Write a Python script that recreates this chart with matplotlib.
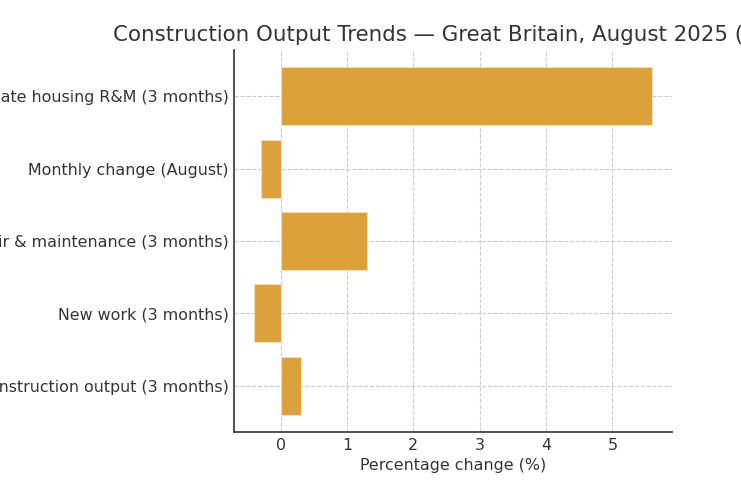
import matplotlib.pyplot as plt

categories = [
    "Total construction output (3 months)",
    "New work (3 months)",
    "Repair & maintenance (3 months)",
    "Monthly change (August)",
    "Private housing R&M (3 months)",
]
values = [0.3, -0.4, 1.3, -0.3, 5.6]
title = "Construction Output Trends \u2014 Great Britain, August 2025 (% change)"

fig = plt.figure(figsize=(7.41, 4.86), dpi=100)
ax = fig.add_axes([0.316, 0.111, 0.591, 0.786])

ax.barh(categories, values, height=0.8, color="#DBA13A", edgecolor="#F3DDB4", linewidth=0.8, zorder=3)
ax.grid(True, linestyle="--", color="#cccccc", linewidth=0.8, zorder=0)
ax.set_axisbelow(True)

for s in ["top", "right"]:
    ax.spines[s].set_visible(False)
for s in ["left", "bottom"]:
    ax.spines[s].set_color("#333333")
    ax.spines[s].set_linewidth(1.2)

ax.tick_params(colors="#333333", labelsize=11.4, length=0, pad=4)
ax.set_xlabel("Percentage change (%)", fontsize=11.4, color="#333333", labelpad=4)
# title sits left-anchored so the crop matches the reference
fig.text(113 / 741, 1 - 35 / 486, title, fontsize=15.4, color="#333333", ha="left", va="center")

fig.savefig("out.png", dpi=100)
